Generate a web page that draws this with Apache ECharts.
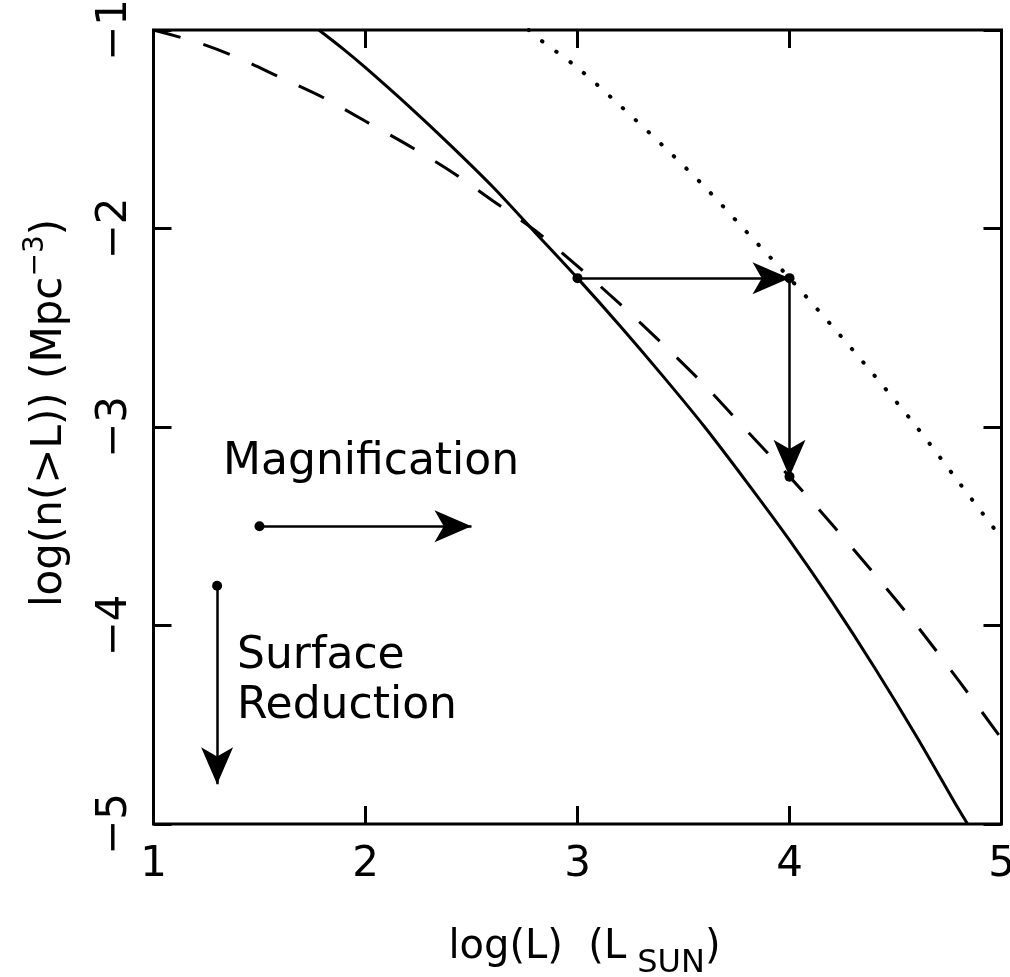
<!DOCTYPE html>
<html>
<head>
<meta charset="utf-8">
<script src="https://cdn.jsdelivr.net/npm/echarts@6/dist/echarts.min.js"></script>
<style>
  html, body { margin: 0; padding: 0; background: #ffffff; }
  #chart { width: 1010px; height: 977px; }
</style>
</head>
<body>
<div id="chart"></div>
<script>
// Axis ticks
const xTicks = [1, 2, 3, 4, 5];
const yTicks = [-5, -4, -3, -2, -1];

// Cumulative luminosity function, intrinsic (solid)
const solidX = [1.78, 1.9, 2.0, 2.2, 2.4, 2.6, 2.8, 3.0, 3.2, 3.4, 3.6, 3.8, 4.0, 4.2, 4.4, 4.6, 4.8, 4.84];
const solidY = [-1.00, -1.10, -1.19, -1.38, -1.58, -1.79, -2.02, -2.25, -2.49, -2.74, -3.00, -3.28, -3.57, -3.88, -4.21, -4.56, -4.93, -5.00];

// Magnified and surface-reduced (dashed)
const dashX = [1.0, 1.2, 1.4, 1.6, 1.8, 2.0, 2.2, 2.4, 2.6, 2.8, 3.0, 3.2, 3.4, 3.6, 3.8, 4.0, 4.2, 4.4, 4.6, 4.8, 5.0];
const dashY = [-1.00, -1.06, -1.14, -1.24, -1.34, -1.46, -1.58, -1.71, -1.86, -2.01, -2.19, -2.38, -2.58, -2.79, -3.02, -3.25, -3.49, -3.74, -4.00, -4.28, -4.57];

// Magnified only (dotted)
const dotX = [2.77, 2.8, 3.0, 3.2, 3.4, 3.6, 3.8, 4.0, 4.2, 4.4, 4.6, 4.8, 5.0];
const dotY = [-1.00, -1.03, -1.19, -1.38, -1.58, -1.79, -2.02, -2.25, -2.49, -2.74, -3.00, -3.28, -3.56];

// Arrows (start, end) in data units
const shiftArrow = [[3, -2.25], [4, -2.25]];
const dropArrow = [[4, -2.25], [4, -3.25]];
const magnifyArrow = [[1.5, -3.5], [2.5, -3.5]];
const reduceArrow = [[1.3, -3.8], [1.3, -4.8]];
const markedPoints = [[3, -2.25], [4, -2.25], [4, -3.25]];

// Annotation texts and their anchors in data units
const noteLabels = ['Magnification', 'Surface\nReduction'];
const noteAnchors = [[1.328, -3.18], [1.394, -4.28]];

const FONT = 'DejaVu Sans';
const zip = (xs, ys) => xs.map((x, i) => [x, ys[i]]);
const minus = v => (v < 0 ? '\u2212' + Math.abs(v) : String(v));

const chart = echarts.init(document.getElementById('chart'), null, { renderer: 'canvas' });

const tickStyle = { show: true, inside: true, length: 18, lineStyle: { color: '#000', width: 3 } };
const noteLabel = {
  show: true, position: [0, 0], align: 'left', verticalAlign: 'middle',
  color: '#000', opacity: 1, fontFamily: FONT, fontSize: 44, lineHeight: 50
};

const option = {
  backgroundColor: '#ffffff',
  animation: false,
  grid: {
    left: 153.5, right: 8.5, top: 30, bottom: 153,
    outerBoundsMode: 'none', containLabel: false,
    show: true, borderColor: '#000', borderWidth: 3, backgroundColor: 'transparent'
  },
  xAxis: [
    {
      type: 'value', position: 'bottom',
      min: xTicks[0], max: xTicks[xTicks.length - 1], interval: xTicks[1] - xTicks[0],
      axisLine: { show: false }, splitLine: { show: false },
      axisTick: tickStyle,
      axisLabel: { margin: 20, color: '#000', fontFamily: FONT, fontSize: 42, formatter: minus },
      name: '{m|log(L)  (L}{b|SUN}{m|)}',
      nameLocation: 'middle', nameGap: 104,
      nameTextStyle: {
        color: '#000', fontFamily: FONT, padding: [0, 0, 0, 14],
        rich: {
          m: { fontFamily: FONT, fontSize: 40, lineHeight: 40, verticalAlign: 'top', color: '#000' },
          b: { fontFamily: FONT, fontSize: 32, lineHeight: 52, verticalAlign: 'bottom', color: '#000', padding: [0, 0, 0, 11] }
        }
      }
    },
    {
      type: 'value', position: 'top',
      min: xTicks[0], max: xTicks[xTicks.length - 1], interval: xTicks[1] - xTicks[0],
      axisLine: { show: false }, splitLine: { show: false },
      axisTick: tickStyle, axisLabel: { show: false }
    }
  ],
  yAxis: [
    {
      type: 'value', position: 'left',
      min: yTicks[0], max: yTicks[yTicks.length - 1], interval: yTicks[1] - yTicks[0],
      axisLine: { show: false }, splitLine: { show: false },
      axisTick: tickStyle,
      axisLabel: { rotate: 90, margin: 17, color: '#000', fontFamily: FONT, fontSize: 42, formatter: minus },
      name: '{m|log(n(>L)) (Mpc}{s|\u22123}{m|)}',
      nameLocation: 'middle', nameRotate: 90, nameGap: 82,
      nameTextStyle: {
        color: '#000', fontFamily: FONT, padding: [0, 0, 0, 28],
        rich: {
          m: { fontFamily: FONT, fontSize: 42, lineHeight: 50, verticalAlign: 'bottom', color: '#000' },
          s: { fontFamily: FONT, fontSize: 28, lineHeight: 28, verticalAlign: 'top', color: '#000' }
        }
      }
    },
    {
      type: 'value', position: 'right',
      min: yTicks[0], max: yTicks[yTicks.length - 1], interval: yTicks[1] - yTicks[0],
      axisLine: { show: false }, splitLine: { show: false },
      axisTick: tickStyle, axisLabel: { show: false }
    }
  ],
  series: [
    {
      name: 'intrinsic', type: 'line', data: zip(solidX, solidY),
      smooth: 0.3, showSymbol: false, symbol: 'none',
      lineStyle: { color: '#000', width: 3 }
    },
    {
      name: 'lensed', type: 'line', data: zip(dashX, dashY),
      smooth: 0.3, showSymbol: false, symbol: 'none',
      lineStyle: { color: '#000', width: 3, type: [28, 24] }
    },
    {
      name: 'magnified', type: 'line', data: zip(dotX, dotY),
      smooth: 0.3, showSymbol: false, symbol: 'none',
      lineStyle: { color: '#000', width: 4, type: [0.5, 17], cap: 'round' }
    },
    {
      name: 'steps', type: 'lines', coordinateSystem: 'cartesian2d',
      symbol: ['none', 'arrow'], symbolSize: [1, [24, 37]],
      lineStyle: { color: '#000', width: 2.5, opacity: 1, curveness: 0 },
      itemStyle: { color: '#000', opacity: 1 },
      data: [{ coords: shiftArrow }, { coords: dropArrow }]
    },
    {
      name: 'legendArrows', type: 'lines', coordinateSystem: 'cartesian2d',
      symbol: ['circle', 'arrow'], symbolSize: [10, [24, 37]],
      lineStyle: { color: '#000', width: 2.5, opacity: 1, curveness: 0 },
      itemStyle: { color: '#000', opacity: 1 },
      data: [{ coords: magnifyArrow }, { coords: reduceArrow }]
    },
    {
      name: 'points', type: 'scatter', data: markedPoints,
      symbol: 'circle', symbolSize: 10, itemStyle: { color: '#000', opacity: 1 }
    },
    {
      name: 'notes', type: 'scatter', symbolSize: 0, silent: true,
      itemStyle: { opacity: 1 },
      data: noteAnchors.map((p, i) => ({
        value: p,
        label: Object.assign({}, noteLabel, { formatter: noteLabels[i] })
      })),
      label: noteLabel
    }
  ]
};

chart.setOption(option);
</script>
</body>
</html>
